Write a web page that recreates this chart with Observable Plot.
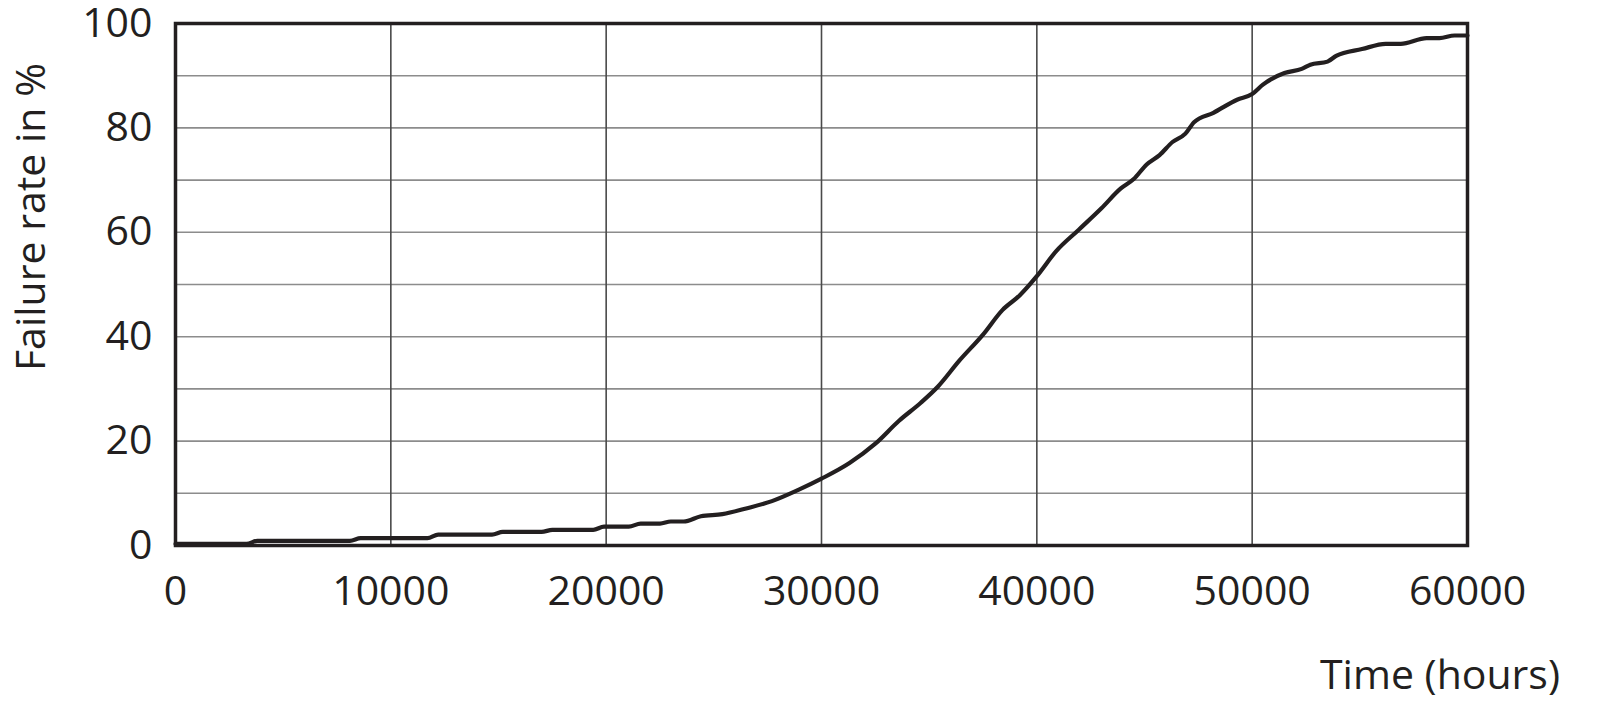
<!DOCTYPE html>
<html><head><meta charset="utf-8">
<script src="https://cdn.jsdelivr.net/npm/d3@7"></script>
<script src="https://cdn.jsdelivr.net/npm/@observablehq/plot@0.6"></script>
<style>body{margin:0;background:#fff;} svg{display:block;}</style>
</head><body><div id="chart"></div>
<script>
const hours = [0, 3300, 3800, 8100, 8600, 11700, 12200, 14700, 15200, 17000, 17500, 19400, 19900, 21050, 21600, 22500, 23000, 23600, 24400, 25400, 26500, 27700, 28900, 30000, 31300, 32500, 33600, 34600, 35400, 36400, 37500, 38400, 39200, 40000, 40900, 41950, 43000, 43900, 44500, 45100, 45700, 46300, 46900, 47300, 48200, 49300, 50000, 50500, 51500, 52300, 52700, 53500, 53900, 55100, 56200, 56900, 58100, 58700, 59400, 60000];
const failureRate = [0.3, 0.3, 0.9, 0.9, 1.4, 1.4, 2.1, 2.1, 2.6, 2.6, 3.0, 3.0, 3.6, 3.6, 4.2, 4.2, 4.6, 4.6, 5.6, 6.0, 7.1, 8.5, 10.6, 12.8, 15.8, 19.5, 23.9, 27.3, 30.4, 35.4, 40.4, 45.1, 47.9, 51.6, 56.4, 60.5, 64.6, 68.4, 70.2, 73.0, 74.8, 77.3, 78.9, 81.1, 82.9, 85.4, 86.5, 88.3, 90.5, 91.3, 92.1, 92.7, 93.8, 95.1, 96.1, 96.1, 97.2, 97.2, 97.7, 97.7];
const xTicks = [0, 10000, 20000, 30000, 40000, 50000, 60000];
const yTicks = [0, 20, 40, 60, 80, 100];
const yGrid = [10, 20, 30, 40, 50, 60, 70, 80, 90];
const xLabel = "Time (hours)";
const yLabel = "Failure rate in %";

const data = hours.map((h, i) => ({hours: h, rate: failureRate[i]}));
const ink = "#231f20";

const chart = Plot.plot({
  width: 1600, height: 715,
  marginLeft: 175, marginRight: 133, marginTop: 23, marginBottom: 170,
  style: {fontFamily: "'Open Sans', sans-serif", fontSize: "41px", color: ink, background: "#fff"},
  x: {domain: [0, 60000], label: null},
  y: {domain: [0, 100], label: null},
  marks: [
    Plot.gridY(yGrid, {stroke: "#8c8c8c", strokeOpacity: 1, strokeWidth: 1.6}),
    Plot.gridX(xTicks, {stroke: "#4a4a4a", strokeOpacity: 1, strokeWidth: 1.6}),
    Plot.axisX(xTicks, {tickSize: 0, tickPadding: 30, tickFormat: d3.format("d"), label: null, fontSize: 41}),
    Plot.axisY(yTicks, {tickSize: 0, tickPadding: 23, label: null, fontSize: 41}),
    Plot.line(data, {x: "hours", y: "rate", stroke: ink, strokeWidth: 4.2, strokeLinejoin: "round", curve: "monotone-x"}),
    Plot.frame({stroke: ink, strokeWidth: 3.5})
  ]
});

const svg = d3.select(chart);
svg.append("text")
  .attr("x", 1560).attr("y", 689)
  .attr("text-anchor", "end")
  .attr("fill", ink)
  .style("font-size", "41px")
  .text(xLabel);
svg.append("text")
  .attr("transform", "translate(45,217) rotate(-90)")
  .attr("text-anchor", "middle")
  .attr("fill", ink)
  .style("font-size", "41px")
  .text(yLabel);

document.getElementById("chart").append(chart);
</script>
</body></html>
